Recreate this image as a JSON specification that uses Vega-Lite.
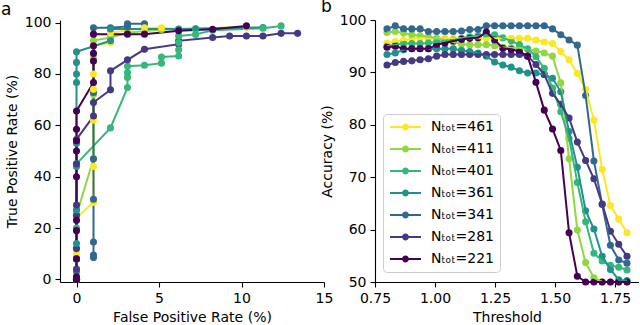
{
  "$schema": "https://vega.github.io/schema/vega-lite/v6.json",
  "padding": {"left": 1, "top": -2, "right": 0, "bottom": 0},
  "background": "white",
  "bounds": "flush",
  "spacing": 51,
  "resolve": {"scale": {"color": "independent"}},
  "config": {
    "font": "DejaVu Sans",
    "view": {"stroke": null},
    "axis": {"domainColor": "black", "tickColor": "black", "labelColor": "black", "titleColor": "black", "labelFontSize": 14, "titleFontSize": 14, "titleFontWeight": "normal", "tickSize": 5, "labelPadding": 4, "grid": false, "domainWidth": 1.1, "tickWidth": 1.1, "titlePadding": 5, "labelFlush": false},
    "title": {"fontSize": 17, "fontWeight": "normal", "anchor": "start", "frame": "group", "color": "black", "offset": -3}
  },
  "hconcat": [
    {
      "width": 264,
      "height": 262,
      "title": {"text": "a", "dx": -59},
      "data": {"values": [
        {"s":"Nₜₒₜ=461","k":0,"x":0,"y":0},{"s":"Nₜₒₜ=461","k":1,"x":0,"y":10},{"s":"Nₜₒₜ=461","k":2,"x":0,"y":24},{"s":"Nₜₒₜ=461","k":3,"x":1.03,"y":30},{"s":"Nₜₒₜ=461","k":4,"x":1.03,"y":44},{"s":"Nₜₒₜ=461","k":5,"x":1.03,"y":62},{"s":"Nₜₒₜ=461","k":6,"x":1.03,"y":74},{"s":"Nₜₒₜ=461","k":7,"x":1.03,"y":80},{"s":"Nₜₒₜ=461","k":8,"x":1.03,"y":91},{"s":"Nₜₒₜ=461","k":9,"x":2.06,"y":92.2},{"s":"Nₜₒₜ=461","k":10,"x":2.06,"y":96},{"s":"Nₜₒₜ=461","k":11,"x":4.12,"y":98},{"s":"Nₜₒₜ=461","k":12,"x":5.15,"y":98},{"s":"Nₜₒₜ=461","k":13,"x":6.19,"y":97.5},{"s":"Nₜₒₜ=461","k":14,"x":10.3,"y":98.2},
        {"s":"Nₜₒₜ=411","k":0,"x":0,"y":0},{"s":"Nₜₒₜ=411","k":1,"x":0,"y":12},{"s":"Nₜₒₜ=411","k":2,"x":0,"y":25},{"s":"Nₜₒₜ=411","k":3,"x":1.03,"y":47},{"s":"Nₜₒₜ=411","k":4,"x":1.03,"y":72},{"s":"Nₜₒₜ=411","k":5,"x":1.03,"y":86},{"s":"Nₜₒₜ=411","k":6,"x":1.03,"y":93},{"s":"Nₜₒₜ=411","k":7,"x":2.06,"y":94.2},{"s":"Nₜₒₜ=411","k":8,"x":3.09,"y":96},{"s":"Nₜₒₜ=411","k":9,"x":5.15,"y":97.3},{"s":"Nₜₒₜ=411","k":10,"x":7.22,"y":97.6},{"s":"Nₜₒₜ=411","k":11,"x":10.3,"y":98.3},
        {"s":"Nₜₒₜ=401","k":0,"x":0,"y":0},{"s":"Nₜₒₜ=401","k":1,"x":0,"y":8},{"s":"Nₜₒₜ=401","k":2,"x":0,"y":20},{"s":"Nₜₒₜ=401","k":3,"x":0,"y":27},{"s":"Nₜₒₜ=401","k":4,"x":0,"y":45},{"s":"Nₜₒₜ=401","k":5,"x":2.06,"y":59},{"s":"Nₜₒₜ=401","k":6,"x":3.09,"y":74.7},{"s":"Nₜₒₜ=401","k":7,"x":3.09,"y":78.6},{"s":"Nₜₒₜ=401","k":8,"x":3.09,"y":80.5},{"s":"Nₜₒₜ=401","k":9,"x":3.09,"y":83},{"s":"Nₜₒₜ=401","k":10,"x":4.12,"y":83.4},{"s":"Nₜₒₜ=401","k":11,"x":5.15,"y":84.2},{"s":"Nₜₒₜ=401","k":12,"x":5.15,"y":86.6},{"s":"Nₜₒₜ=401","k":13,"x":6.19,"y":87},{"s":"Nₜₒₜ=401","k":14,"x":6.19,"y":89.4},{"s":"Nₜₒₜ=401","k":15,"x":6.19,"y":92.2},{"s":"Nₜₒₜ=401","k":16,"x":6.19,"y":94.8},{"s":"Nₜₒₜ=401","k":17,"x":7.22,"y":95.4},{"s":"Nₜₒₜ=401","k":18,"x":8.25,"y":97},{"s":"Nₜₒₜ=401","k":19,"x":11.3,"y":97.8},{"s":"Nₜₒₜ=401","k":20,"x":12.4,"y":98.7},
        {"s":"Nₜₒₜ=361","k":0,"x":0,"y":0},{"s":"Nₜₒₜ=361","k":1,"x":0,"y":3},{"s":"Nₜₒₜ=361","k":2,"x":0,"y":8},{"s":"Nₜₒₜ=361","k":3,"x":0,"y":14},{"s":"Nₜₒₜ=361","k":4,"x":0,"y":27},{"s":"Nₜₒₜ=361","k":5,"x":0,"y":44},{"s":"Nₜₒₜ=361","k":6,"x":0,"y":53},{"s":"Nₜₒₜ=361","k":7,"x":0,"y":76.7},{"s":"Nₜₒₜ=361","k":8,"x":0,"y":80},{"s":"Nₜₒₜ=361","k":9,"x":0,"y":84.5},{"s":"Nₜₒₜ=361","k":10,"x":0,"y":88.6},{"s":"Nₜₒₜ=361","k":11,"x":2.06,"y":92.9},{"s":"Nₜₒₜ=361","k":12,"x":2.06,"y":97.5},{"s":"Nₜₒₜ=361","k":13,"x":6.19,"y":97.5},{"s":"Nₜₒₜ=361","k":14,"x":7.22,"y":97.6},{"s":"Nₜₒₜ=361","k":15,"x":11.3,"y":98.1},
        {"s":"Nₜₒₜ=341","k":0,"x":1.03,"y":8.5},{"s":"Nₜₒₜ=341","k":1,"x":1.03,"y":9.5},{"s":"Nₜₒₜ=341","k":2,"x":1.03,"y":14.6},{"s":"Nₜₒₜ=341","k":3,"x":1.03,"y":31.2},{"s":"Nₜₒₜ=341","k":4,"x":1.03,"y":47},{"s":"Nₜₒₜ=341","k":5,"x":1.03,"y":72.8},{"s":"Nₜₒₜ=341","k":6,"x":1.03,"y":98},{"s":"Nₜₒₜ=341","k":7,"x":2.06,"y":98},{"s":"Nₜₒₜ=341","k":8,"x":3.09,"y":98.5},{"s":"Nₜₒₜ=341","k":9,"x":3.09,"y":99.5},{"s":"Nₜₒₜ=341","k":10,"x":4.12,"y":99.5},
        {"s":"Nₜₒₜ=281","k":0,"x":0,"y":0},{"s":"Nₜₒₜ=281","k":1,"x":0,"y":4},{"s":"Nₜₒₜ=281","k":2,"x":0,"y":12},{"s":"Nₜₒₜ=281","k":3,"x":0,"y":25},{"s":"Nₜₒₜ=281","k":4,"x":0,"y":29},{"s":"Nₜₒₜ=281","k":5,"x":0,"y":45},{"s":"Nₜₒₜ=281","k":6,"x":0,"y":54.5},{"s":"Nₜₒₜ=281","k":7,"x":1.03,"y":63.6},{"s":"Nₜₒₜ=281","k":8,"x":1.03,"y":68.9},{"s":"Nₜₒₜ=281","k":9,"x":2.06,"y":73.8},{"s":"Nₜₒₜ=281","k":10,"x":2.06,"y":81.2},{"s":"Nₜₒₜ=281","k":11,"x":3.09,"y":85.5},{"s":"Nₜₒₜ=281","k":12,"x":4.12,"y":89.6},{"s":"Nₜₒₜ=281","k":13,"x":6.19,"y":91.6},{"s":"Nₜₒₜ=281","k":14,"x":6.19,"y":92.9},{"s":"Nₜₒₜ=281","k":15,"x":8.25,"y":94.2},{"s":"Nₜₒₜ=281","k":16,"x":9.28,"y":94.8},{"s":"Nₜₒₜ=281","k":17,"x":10.3,"y":94.8},{"s":"Nₜₒₜ=281","k":18,"x":11.3,"y":94.8},{"s":"Nₜₒₜ=281","k":19,"x":12.4,"y":95.8},{"s":"Nₜₒₜ=281","k":20,"x":13.4,"y":95.8},
        {"s":"Nₜₒₜ=221","k":0,"x":0,"y":0},{"s":"Nₜₒₜ=221","k":1,"x":0,"y":1},{"s":"Nₜₒₜ=221","k":2,"x":0,"y":8},{"s":"Nₜₒₜ=221","k":3,"x":0,"y":19},{"s":"Nₜₒₜ=221","k":4,"x":0,"y":23},{"s":"Nₜₒₜ=221","k":5,"x":0,"y":40},{"s":"Nₜₒₜ=221","k":6,"x":0,"y":50},{"s":"Nₜₒₜ=221","k":7,"x":0,"y":54},{"s":"Nₜₒₜ=221","k":8,"x":0,"y":58.5},{"s":"Nₜₒₜ=221","k":9,"x":0,"y":65.6},{"s":"Nₜₒₜ=221","k":10,"x":1.03,"y":76.7},{"s":"Nₜₒₜ=221","k":11,"x":1.03,"y":85},{"s":"Nₜₒₜ=221","k":12,"x":1.03,"y":88},{"s":"Nₜₒₜ=221","k":13,"x":1.03,"y":91},{"s":"Nₜₒₜ=221","k":14,"x":1.03,"y":95.5},{"s":"Nₜₒₜ=221","k":15,"x":3.09,"y":95.5},{"s":"Nₜₒₜ=221","k":16,"x":4.12,"y":95.5},{"s":"Nₜₒₜ=221","k":17,"x":6.19,"y":96.8},{"s":"Nₜₒₜ=221","k":18,"x":8.25,"y":97.4},{"s":"Nₜₒₜ=221","k":19,"x":10.3,"y":98.7}
      ]},
      "encoding": {
        "x": {"field": "x", "type": "quantitative", "scale": {"domain": [-1, 15], "nice": false, "zero": false}, "axis": {"values": [0, 5, 10, 15], "title": "False Positive Rate (%)"}},
        "y": {"field": "y", "type": "quantitative", "scale": {"domain": [-1, 101], "nice": false, "zero": false}, "axis": {"values": [0, 20, 40, 60, 80, 100], "title": "True Positive Rate (%)"}},
        "color": {"field": "s", "type": "nominal", "legend": null, "scale": {"domain": ["Nₜₒₜ=461","Nₜₒₜ=411","Nₜₒₜ=401","Nₜₒₜ=361","Nₜₒₜ=341","Nₜₒₜ=281","Nₜₒₜ=221"], "range": ["#fde725","#90d743","#35b779","#21918c","#31688e","#443983","#440154"]}},
        "order": {"field": "k", "type": "quantitative"}
      },
      "layer": [
        {"mark": {"type": "line", "strokeWidth": 2}},
        {"mark": {"type": "point", "filled": true, "size": 50, "opacity": 1}}
      ]
    },
    {
      "width": 264,
      "height": 262,
      "title": {"text": "b", "dx": -54},
      "data": {"values": [
        {"t":0.8,"Nₜₒₜ=461":95.6,"Nₜₒₜ=411":97.6,"Nₜₒₜ=401":95.0,"Nₜₒₜ=361":93.4,"Nₜₒₜ=341":98.3,"Nₜₒₜ=281":91.4,"Nₜₒₜ=221":94.8},
        {"t":0.8345,"Nₜₒₜ=461":95.9,"Nₜₒₜ=411":97.8,"Nₜₒₜ=401":95.3,"Nₜₒₜ=361":93.7,"Nₜₒₜ=341":98.9,"Nₜₒₜ=281":91.9,"Nₜₒₜ=221":95.0},
        {"t":0.869,"Nₜₒₜ=461":96.2,"Nₜₒₜ=411":97.5,"Nₜₒₜ=401":95.5,"Nₜₒₜ=361":94.3,"Nₜₒₜ=341":98.3,"Nₜₒₜ=281":92.1,"Nₜₒₜ=221":94.5},
        {"t":0.9034,"Nₜₒₜ=461":96.4,"Nₜₒₜ=411":97.2,"Nₜₒₜ=401":95.5,"Nₜₒₜ=361":94.5,"Nₜₒₜ=341":98.3,"Nₜₒₜ=281":92.2,"Nₜₒₜ=221":94.5},
        {"t":0.9379,"Nₜₒₜ=461":96.5,"Nₜₒₜ=411":97.0,"Nₜₒₜ=401":95.5,"Nₜₒₜ=361":94.5,"Nₜₒₜ=341":98.3,"Nₜₒₜ=281":92.4,"Nₜₒₜ=221":94.5},
        {"t":0.9724,"Nₜₒₜ=461":96.5,"Nₜₒₜ=411":96.8,"Nₜₒₜ=401":95.6,"Nₜₒₜ=361":94.5,"Nₜₒₜ=341":97.8,"Nₜₒₜ=281":92.6,"Nₜₒₜ=221":94.5},
        {"t":1.0069,"Nₜₒₜ=461":96.5,"Nₜₒₜ=411":96.5,"Nₜₒₜ=401":95.8,"Nₜₒₜ=361":94.5,"Nₜₒₜ=341":97.8,"Nₜₒₜ=281":93.1,"Nₜₒₜ=221":95.3},
        {"t":1.0414,"Nₜₒₜ=461":96.5,"Nₜₒₜ=411":96.2,"Nₜₒₜ=401":96.0,"Nₜₒₜ=361":94.5,"Nₜₒₜ=341":97.8,"Nₜₒₜ=281":93.4,"Nₜₒₜ=221":95.6},
        {"t":1.0759,"Nₜₒₜ=461":96.5,"Nₜₒₜ=411":95.8,"Nₜₒₜ=401":96.2,"Nₜₒₜ=361":94.5,"Nₜₒₜ=341":97.8,"Nₜₒₜ=281":93.4,"Nₜₒₜ=221":96.0},
        {"t":1.1103,"Nₜₒₜ=461":96.5,"Nₜₒₜ=411":95.4,"Nₜₒₜ=401":96.5,"Nₜₒₜ=361":94.2,"Nₜₒₜ=341":97.9,"Nₜₒₜ=281":93.4,"Nₜₒₜ=221":96.3},
        {"t":1.1448,"Nₜₒₜ=461":96.5,"Nₜₒₜ=411":95.3,"Nₜₒₜ=401":96.8,"Nₜₒₜ=361":94.0,"Nₜₒₜ=341":98.2,"Nₜₒₜ=281":93.4,"Nₜₒₜ=221":96.5},
        {"t":1.1793,"Nₜₒₜ=461":96.5,"Nₜₒₜ=411":95.3,"Nₜₒₜ=401":97.0,"Nₜₒₜ=361":93.7,"Nₜₒₜ=341":98.2,"Nₜₒₜ=281":93.4,"Nₜₒₜ=221":96.6},
        {"t":1.2138,"Nₜₒₜ=461":96.5,"Nₜₒₜ=411":95.3,"Nₜₒₜ=401":97.2,"Nₜₒₜ=361":93.1,"Nₜₒₜ=341":98.9,"Nₜₒₜ=281":93.4,"Nₜₒₜ=221":97.7},
        {"t":1.2483,"Nₜₒₜ=461":96.5,"Nₜₒₜ=411":95.1,"Nₜₒₜ=401":97.2,"Nₜₒₜ=361":92.0,"Nₜₒₜ=341":98.9,"Nₜₒₜ=281":93.4,"Nₜₒₜ=221":96.2},
        {"t":1.2828,"Nₜₒₜ=461":96.5,"Nₜₒₜ=411":94.8,"Nₜₒₜ=401":96.6,"Nₜₒₜ=361":91.4,"Nₜₒₜ=341":98.9,"Nₜₒₜ=281":93.4,"Nₜₒₜ=221":94.6},
        {"t":1.3172,"Nₜₒₜ=461":96.5,"Nₜₒₜ=411":94.7,"Nₜₒₜ=401":96.0,"Nₜₒₜ=361":91.0,"Nₜₒₜ=341":98.9,"Nₜₒₜ=281":93.4,"Nₜₒₜ=221":94.4},
        {"t":1.3517,"Nₜₒₜ=461":96.5,"Nₜₒₜ=411":94.7,"Nₜₒₜ=401":95.3,"Nₜₒₜ=361":90.3,"Nₜₒₜ=341":98.9,"Nₜₒₜ=281":93.4,"Nₜₒₜ=221":94.0},
        {"t":1.3862,"Nₜₒₜ=461":96.5,"Nₜₒₜ=411":94.4,"Nₜₒₜ=401":94.5,"Nₜₒₜ=361":89.9,"Nₜₒₜ=341":98.9,"Nₜₒₜ=281":93.1,"Nₜₒₜ=221":93.1},
        {"t":1.4207,"Nₜₒₜ=461":96.2,"Nₜₒₜ=411":94.1,"Nₜₒₜ=401":93.0,"Nₜₒₜ=361":89.9,"Nₜₒₜ=341":98.9,"Nₜₒₜ=281":91.5,"Nₜₒₜ=221":88.1},
        {"t":1.4552,"Nₜₒₜ=461":95.8,"Nₜₒₜ=411":93.7,"Nₜₒₜ=401":90.8,"Nₜₒₜ=361":89.6,"Nₜₒₜ=341":98.9,"Nₜₒₜ=281":89.6,"Nₜₒₜ=221":82.8},
        {"t":1.4897,"Nₜₒₜ=461":95.5,"Nₜₒₜ=411":93.1,"Nₜₒₜ=401":87.0,"Nₜₒₜ=361":88.9,"Nₜₒₜ=341":98.3,"Nₜₒₜ=281":86.0,"Nₜₒₜ=221":79.2},
        {"t":1.5241,"Nₜₒₜ=461":94.0,"Nₜₒₜ=411":88.0,"Nₜₒₜ=401":82.5,"Nₜₒₜ=361":86.3,"Nₜₒₜ=341":97.2,"Nₜₒₜ=281":83.9,"Nₜₒₜ=221":75.1},
        {"t":1.5586,"Nₜₒₜ=461":92.4,"Nₜₒₜ=411":73.5,"Nₜₒₜ=401":77.4,"Nₜₒₜ=361":78.7,"Nₜₒₜ=341":96.2,"Nₜₒₜ=281":81.3,"Nₜₒₜ=221":59.4},
        {"t":1.5931,"Nₜₒₜ=461":89.8,"Nₜₒₜ=411":59.9,"Nₜₒₜ=401":69.0,"Nₜₒₜ=361":71.9,"Nₜₒₜ=341":95.2,"Nₜₒₜ=281":76.7,"Nₜₒₜ=221":51.1},
        {"t":1.6276,"Nₜₒₜ=461":86.8,"Nₜₒₜ=411":53.7,"Nₜₒₜ=401":61.5,"Nₜₒₜ=361":63.6,"Nₜₒₜ=341":85.6,"Nₜₒₜ=281":73.2,"Nₜₒₜ=221":50.0},
        {"t":1.6621,"Nₜₒₜ=461":80.9,"Nₜₒₜ=411":50.8,"Nₜₒₜ=401":55.5,"Nₜₒₜ=361":60.1,"Nₜₒₜ=341":73.1,"Nₜₒₜ=281":69.7,"Nₜₒₜ=221":50.0},
        {"t":1.6966,"Nₜₒₜ=461":71.5,"Nₜₒₜ=411":50.0,"Nₜₒₜ=401":54.0,"Nₜₒₜ=361":54.9,"Nₜₒₜ=341":64.8,"Nₜₒₜ=281":64.9,"Nₜₒₜ=221":50.0},
        {"t":1.731,"Nₜₒₜ=461":64.6,"Nₜₒₜ=411":50.0,"Nₜₒₜ=401":53.2,"Nₜₒₜ=361":52.4,"Nₜₒₜ=341":57.0,"Nₜₒₜ=281":59.7,"Nₜₒₜ=221":50.0},
        {"t":1.7655,"Nₜₒₜ=461":62.0,"Nₜₒₜ=411":50.0,"Nₜₒₜ=401":52.8,"Nₜₒₜ=361":50.4,"Nₜₒₜ=341":54.2,"Nₜₒₜ=281":57.2,"Nₜₒₜ=221":50.0},
        {"t":1.8,"Nₜₒₜ=461":59.4,"Nₜₒₜ=411":50.0,"Nₜₒₜ=401":52.3,"Nₜₒₜ=361":50.3,"Nₜₒₜ=341":53.6,"Nₜₒₜ=281":54.9,"Nₜₒₜ=221":50.0}
      ]},
      "transform": [{"fold": ["Nₜₒₜ=461","Nₜₒₜ=411","Nₜₒₜ=401","Nₜₒₜ=361","Nₜₒₜ=341","Nₜₒₜ=281","Nₜₒₜ=221"], "as": ["s", "a"]}],
      "encoding": {
        "x": {"field": "t", "type": "quantitative", "scale": {"domain": [0.75, 1.85], "nice": false, "zero": false}, "axis": {"values": [0.75, 1, 1.25, 1.5, 1.75], "format": ".2f", "title": "Threshold"}},
        "y": {"field": "a", "type": "quantitative", "scale": {"domain": [50, 100], "nice": false, "zero": false}, "axis": {"values": [50, 60, 70, 80, 90, 100], "title": "Accuracy (%)"}}
      },
      "layer": [
        {"mark": {"type": "point", "filled": true, "size": 50, "opacity": 1}, "encoding": {"color": {"field": "s", "type": "nominal", "scale": {"domain": ["Nₜₒₜ=461","Nₜₒₜ=411","Nₜₒₜ=401","Nₜₒₜ=361","Nₜₒₜ=341","Nₜₒₜ=281","Nₜₒₜ=221"], "range": ["#fde725","#90d743","#35b779","#21918c","#31688e","#443983","#440154"]}, "legend": {"orient": "none", "legendX": 8, "legendY": 94, "title": null, "labelExpr": "datum.label + '\u00a0\u00a0'", "symbolType": "M-0.857,-0.143H3.571V0.143H-0.857Z M1.843,0A0.486,0.486 0 1 1 0.871,0A0.486,0.486 0 1 1 1.843,0Z", "symbolSize": 196, "symbolStrokeWidth": 0, "labelFontSize": 14, "labelColor": "black", "labelOffset": 28, "padding": 6, "strokeColor": "#cccccc", "cornerRadius": 4, "fillColor": "rgba(255,255,255,0.8)", "rowPadding": 8}}}},
        {"mark": {"type": "line", "strokeWidth": 2}, "encoding": {"color": {"field": "s", "type": "nominal", "scale": {"domain": ["Nₜₒₜ=461","Nₜₒₜ=411","Nₜₒₜ=401","Nₜₒₜ=361","Nₜₒₜ=341","Nₜₒₜ=281","Nₜₒₜ=221"], "range": ["#fde725","#90d743","#35b779","#21918c","#31688e","#443983","#440154"]}}}}
      ]
    }
  ]
}
